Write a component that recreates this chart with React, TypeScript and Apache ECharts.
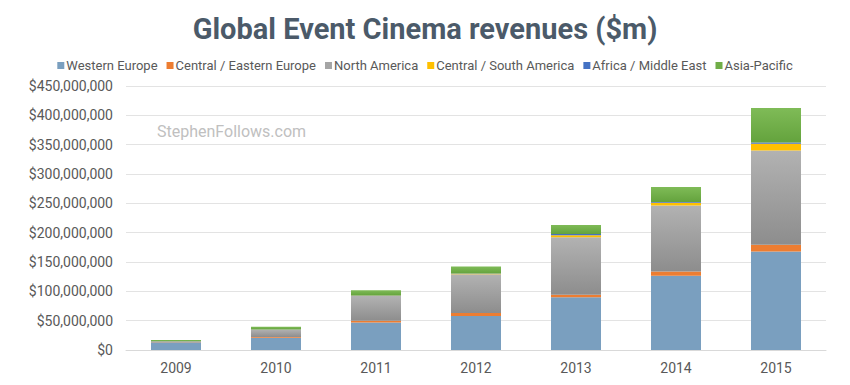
import React, { useEffect, useRef } from "react";
import * as echarts from "echarts";

const years = ["2009", "2010", "2011", "2012", "2013", "2014", "2015"];
// values in $ millions
const westernEurope = [13, 21, 47, 58, 90, 126.5, 168];
const centralEasternEurope = [0.5, 1, 3, 5, 4, 7.5, 11.5];
const northAmerica = [1.5, 13, 42, 66, 98, 112.5, 160.5];
const centralSouthAmerica = [0, 0, 0.5, 0.8, 3.4, 4.5, 11.5];
const africaMiddleEast = [0, 0, 0.3, 0.5, 2.3, 1.2, 2.3];
const asiaPacific = [2, 4.5, 9, 12, 15.5, 25.5, 58.5];
const yTicks = { min: 0, max: 450, interval: 50 };

const grad = (top: string, bottom: string) =>
  new echarts.graphic.LinearGradient(0, 0, 0, 1, [
    { offset: 0, color: top },
    { offset: 1, color: bottom },
  ]);

export default function App() {
  const ref = useRef<HTMLDivElement>(null);
  useEffect(() => {
    if (!ref.current) return;
    const chart = echarts.init(ref.current, undefined, { renderer: "svg" });
    const font = "Roboto, 'Open Sans', sans-serif";
    const mk = (name: string, data: number[], color: any) => ({
      name,
      type: "bar",
      stack: "total",
      data,
      barWidth: "50%",
      itemStyle: { color },
    });
    chart.setOption({
      animation: false,
      backgroundColor: "#ffffff",
      textStyle: { fontFamily: font },
      title: {
        text: "Global Event Cinema revenues ($m)",
        left: "center",
        top: 9,
        textStyle: { fontFamily: font, fontSize: 29, fontWeight: "bold", color: "#4b5a69" },
      },
      legend: {
        top: 54,
        left: "center",
        itemWidth: 7,
        itemHeight: 7,
        itemGap: 9,
        icon: "rect",
        textStyle: { fontFamily: font, fontSize: 13, color: "#595959", padding: [0, 0, 0, -3] },
        data: [
          { name: "Western Europe", itemStyle: { color: "#7a9fbf" } },
          { name: "Central / Eastern Europe", itemStyle: { color: "#ed7d31" } },
          { name: "North America", itemStyle: { color: "#a5a5a5" } },
          { name: "Central / South America", itemStyle: { color: "#ffc000" } },
          { name: "Africa / Middle East", itemStyle: { color: "#4472c4" } },
          { name: "Asia-Pacific", itemStyle: { color: "#70ad47" } },
        ],
      },
      grid: { left: 126, right: 24, top: 86, bottom: 35, containLabel: false },
      xAxis: {
        type: "category",
        data: years,
        axisLine: { lineStyle: { color: "#d9d9d9" } },
        axisTick: { show: false },
        axisLabel: { fontFamily: font, fontSize: 14, color: "#595959", margin: 11 },
      },
      yAxis: {
        type: "value",
        min: yTicks.min,
        max: yTicks.max,
        interval: yTicks.interval,
        axisLine: { show: false },
        axisTick: { show: false },
        splitLine: { lineStyle: { color: "#e3e3e3", width: 1 } },
        axisLabel: {
          fontFamily: font,
          fontSize: 14,
          color: "#595959",
          margin: 13,
          formatter: (v: number) => "$" + Math.round(v * 1000000).toLocaleString("en-US"),
        },
      },
      graphic: [
        {
          type: "text",
          left: 157,
          top: 123,
          style: {
            text: "StephenFollows.com",
            fontFamily: font,
            fontSize: 16,
            fill: "#c0c0c0",
          },
        },
      ],
      series: [
        mk("Western Europe", westernEurope, "#7a9fbf"),
        mk("Central / Eastern Europe", centralEasternEurope, "#ed7d31"),
        mk("North America", northAmerica, grad("#b2b2b2", "#8d8d8d")),
        mk("Central / South America", centralSouthAmerica, "#ffc000"),
        mk("Africa / Middle East", africaMiddleEast, "#4472c4"),
        mk("Asia-Pacific", asiaPacific, grad("#7fbb57", "#64a33d")),
      ],
    });
    return () => chart.dispose();
  }, []);
  return (
    <div
      ref={ref}
      style={{ position: "fixed", left: 0, top: 0, width: 850, height: 385 }}
    />
  );
}
